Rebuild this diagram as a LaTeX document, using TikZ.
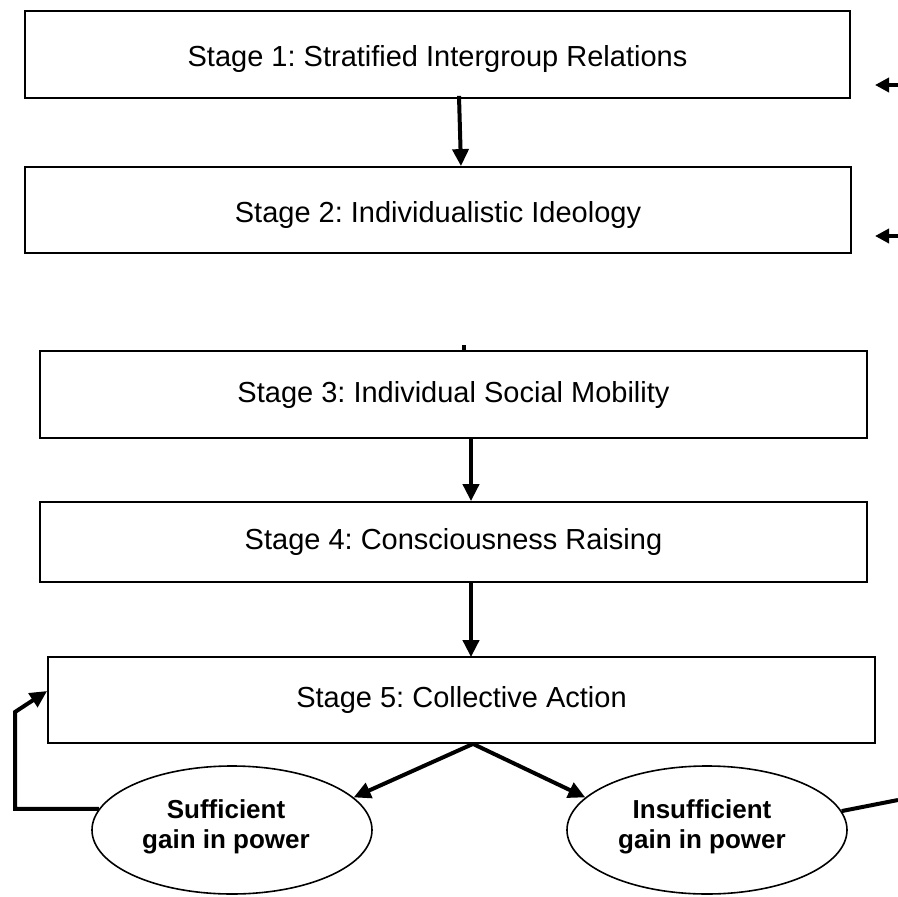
\documentclass[tikz,border=0pt]{standalone}
\usepackage{fontspec}
\setmainfont{Liberation Sans}
\frenchspacing
\usetikzlibrary{arrows.meta,shapes.geometric}
\begin{document}
\begin{tikzpicture}[x=1pt,y=-1pt,
  stagebox/.style={draw=black,line width=1.8pt,minimum width=#1,inner sep=0pt,
    font=\fontsize{29}{33}\selectfont},
  lowtext/.style={text height=30pt,text depth=6pt},
  oval/.style={draw=black,line width=1.6pt,ellipse,minimum width=280pt,minimum height=128pt,
    inner sep=0pt},
  ovaltext/.style={align=center,inner sep=0pt,font=\fontsize{26}{30}\selectfont\bfseries},
  arr/.style={line width=4pt,-{Triangle[length=17pt,width=16pt]}},
  sarr/.style={line width=4pt,-{Triangle[length=14pt,width=14pt]}},
  link/.style={line width=4pt}]
\useasboundingbox (0,0) rectangle (898,897);
\fill[white] (0,0) rectangle (898,897);

\node[stagebox=825pt,minimum height=87pt,lowtext] (b1) at (437.5,54.5) {Stage 1: Stratified Intergroup Relations};
\node[stagebox=826pt,minimum height=86pt,lowtext] (b2) at (438,210) {Stage 2: Individualistic Ideology};
\node[stagebox=827pt,minimum height=87pt] (b3) at (453.5,394.5) {Stage 3: Individual Social Mobility};
\node[stagebox=827pt,minimum height=80pt] (b4) at (453.5,542) {Stage 4: Consciousness Raising};
\node[stagebox=827pt,minimum height=86pt] (b5) at (461.5,700) {Stage 5: Collective Action};

\node[oval] (e1) at (232,830) {};
\node[oval] (e2) at (707,830) {};
\node[ovaltext] (t1) at (226,827) {Sufficient\\gain in power};
\node[ovaltext] (t2) at (702,827) {Insufficient\\gain in power};

\coordinate (r1) at (898,85);
\coordinate (r2) at (898,236);
\coordinate (r3) at (898,800);
\coordinate (lp) at (15,712);
\coordinate (tk) at (464,345);

% vertical arrows
\draw[arr] ([xshift=21.5pt,yshift=3pt]b1.south) -- ([xshift=23pt]b2.north);
\draw[line width=4pt] (tk) -- ([xshift=10.5pt]b3.north);
\draw[arr] ([xshift=17.5pt]b3.south) -- ([xshift=17.5pt]b4.north);
\draw[arr] ([xshift=17.5pt]b4.south) -- ([xshift=9.5pt,yshift=-1pt]b5.north);

% branches
\draw[arr] ([xshift=11.5pt]b5.south) -- (e1.15);
\draw[arr] ([xshift=11.5pt]b5.south) -- (e2.165);

% loop back
\draw[arr] (e1.171) -| (lp) -- ([yshift=9pt]b5.west);

% right side
\draw[link] (e2.8) -- (r3);
\draw[sarr] (r1) -- ++(-23,0);
\draw[sarr] (r2) -- ++(-23,0);
\end{tikzpicture}
\end{document}
